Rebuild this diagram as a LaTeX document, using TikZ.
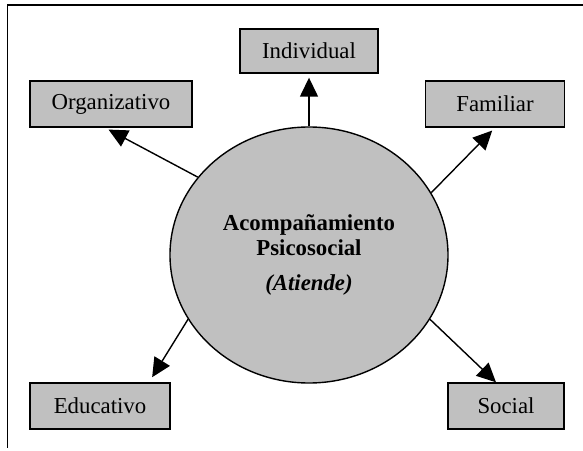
\documentclass[tikz,border=0pt]{standalone}
\usepackage{fontspec}
\setmainfont{Liberation Serif}
\usepackage{tikz}
\usetikzlibrary{arrows.meta}
\usetikzlibrary{shapes.geometric}

\definecolor{silver}{RGB}{192,192,192}

\begin{document}
\begin{tikzpicture} [x = 0.5pt, y = 0.5pt,
    area/.style = {draw, fill = silver, line width = 0.7pt, inner sep = 0,
        minimum height = 23pt, font = \fontsize{11.4}{13}\selectfont},
    link/.style = {-{Triangle[length = 9.5pt, width = 9pt]}, line width = 0.7pt}]
    \useasboundingbox (0, 0) rectangle (583, 450);
    \draw[line width = 0.7pt] (583, 445) -- (7.5, 445) -- (7.5, 2);

    \node[ellipse, draw, fill = silver, line width = 0.7pt, inner sep = 0,
        minimum width = 139pt, minimum height = 128pt, align = center,
        font = \fontsize{11.4}{12.5}\selectfont] (circ) at (309, 195)
        {\textbf{Acompañamiento}\\ \textbf{Psicosocial}\\[5pt] \textbf{\textit{(Atiende)}}};

    \node[area, minimum width = 69pt, minimum height = 22pt] (ind) at (309, 399) {Individual};
    \node[area, minimum width = 81pt] (org) at (111, 346) {Organizativo};
    \node[area, minimum width = 69.5pt] (fam) at (495, 346) {Familiar};
    \node[area, minimum width = 70pt] (edu) at (100, 44) {Educativo};
    \node[area, minimum width = 58pt] (soc) at (506, 44) {Social};

    \draw[link, shorten > = 2pt] (circ.90) -- (ind.south);
    \draw[link, shorten > = 2pt] (circ.145) -- ([xshift = -3pt]org.south);
    \draw[link, shorten > = 2pt] (circ.27) -- (fam.south);
    \draw[link, shorten > = 3pt] (circ.208.6) -- ([xshift = 24.5pt]edu.north);
    \draw[link] (circ.332.5) -- ([xshift = -5pt]soc.north);
\end{tikzpicture}
\end{document}
